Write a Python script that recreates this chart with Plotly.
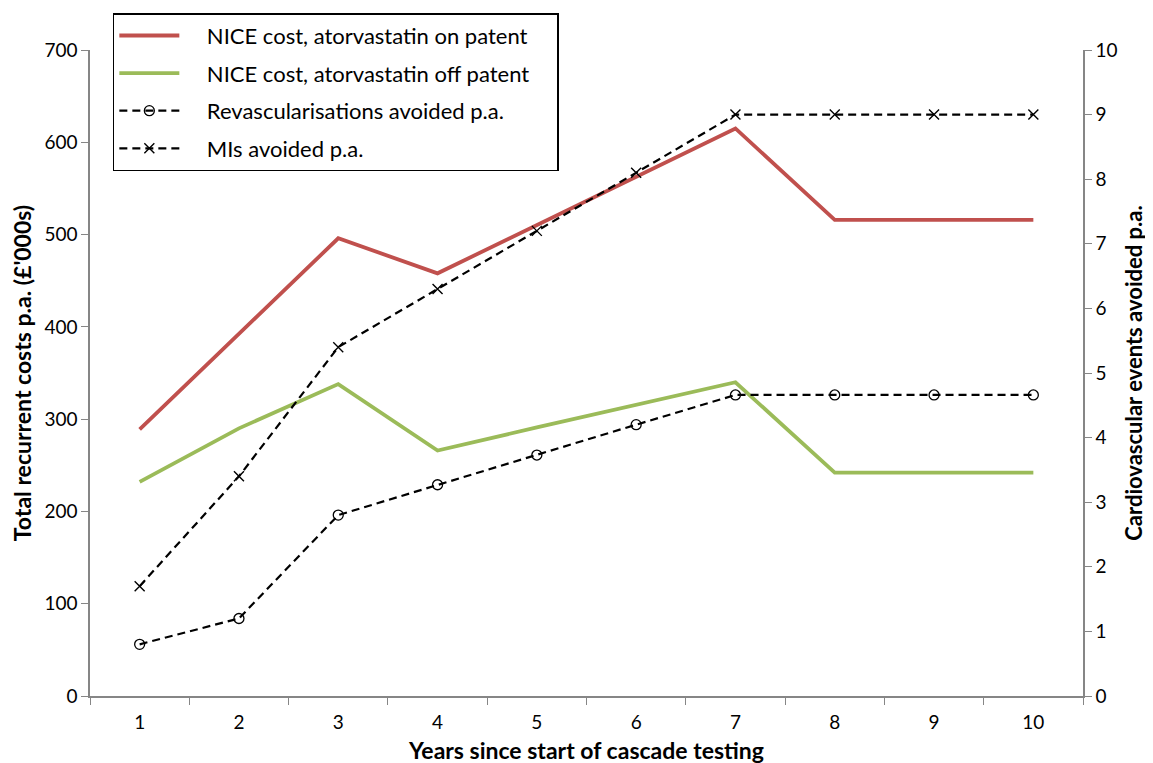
import plotly.graph_objects as go

years = ["1", "2", "3", "4", "5", "6", "7", "8", "9", "10"]
cost_on_patent = [289, 393, 496, 458, 510, 562, 615, 516, 516, 516]
cost_off_patent = [232, 290, 338, 266, 291, 316, 340, 242, 242, 242]
revasc_avoided = [0.8, 1.2, 2.8, 3.27, 3.73, 4.2, 4.66, 4.66, 4.66, 4.66]
mis_avoided = [1.7, 3.4, 5.4, 6.3, 7.2, 8.1, 9.0, 9.0, 9.0, 9.0]

FONT = "Lato"
AXC = "#868686"
PAD = "\u00a0" * 4
TAIL = "\u00a0" * 4

fig = go.Figure()
fig.add_trace(go.Scatter(x=years, y=cost_on_patent, mode="lines",
                         name=PAD + "NICE cost, atorvastatin on patent",
                         line=dict(color="#C0504D", width=3.8), legendgroup="a"))
fig.add_trace(go.Scatter(x=years, y=cost_off_patent, mode="lines",
                         name=PAD + "NICE cost, atorvastatin off patent" + TAIL,
                         line=dict(color="#9BBB59", width=3.8), legendgroup="b"))
fig.add_trace(go.Scatter(x=years, y=revasc_avoided, mode="lines+markers", yaxis="y2",
                         name=PAD + "Revascularisations avoided p.a.",
                         line=dict(color="black", width=2.2, dash="8px,5px"),
                         marker=dict(symbol="circle-open", size=10, color="black",
                                     line=dict(width=1.3, color="black")),
                         legendgroup="c"))
fig.add_trace(go.Scatter(x=years, y=mis_avoided, mode="lines+markers", yaxis="y2",
                         name=PAD + "MIs avoided p.a.",
                         line=dict(color="black", width=2.2, dash="8px,5px"),
                         marker=dict(symbol="x-thin-open", size=10, color="black",
                                     line=dict(width=1.4, color="black")),
                         legendgroup="d"))

fig.update_layout(
    width=1153, height=763,
    margin=dict(l=82, r=78, t=42, b=75, autoexpand=False),
    paper_bgcolor="white", plot_bgcolor="white",
    font=dict(family=FONT, size=19, color="black"),
    showlegend=True,
    legend=dict(x=0.023, y=1.057, xanchor="left", yanchor="top",
                bordercolor="black", borderwidth=1.5, bgcolor="white",
                font=dict(size=22, family=FONT), tracegroupgap=6,
                itemwidth=60),
    xaxis=dict(type="category", range=[-0.5, 9.5], tickson="boundaries",
               ticks="outside", ticklen=7, tickcolor=AXC,
               showline=True, linecolor=AXC, linewidth=1.5,
               showgrid=False, zeroline=False, automargin=False,
               ticklabelstandoff=8,
               title=dict(text="<b>Years since start of cascade testing</b>",
                          font=dict(size=23, family=FONT), standoff=11),
               tickfont=dict(size=19)),
    yaxis=dict(range=[0, 700], dtick=100, ticks="outside", ticklen=7,
               tickcolor=AXC, showline=True, linecolor=AXC,
               linewidth=1.5, showgrid=False, zeroline=False, automargin=False,
               title=dict(text="<b>Total recurrent costs p.a. (£'000s)</b>",
                          font=dict(size=23, family=FONT), standoff=10),
               tickfont=dict(size=19)),
    yaxis2=dict(range=[0, 10], dtick=1, overlaying="y", side="right",
                ticks="outside", ticklen=7, tickcolor=AXC,
                showline=True, linecolor=AXC, linewidth=1.5,
                showgrid=False, zeroline=False, automargin=False,
                title=dict(text="<b>Cardiovascular events avoided p.a.</b>",
                           font=dict(size=22, family=FONT), standoff=10),
                tickfont=dict(size=19)),
)

fig.write_html("out.html")
